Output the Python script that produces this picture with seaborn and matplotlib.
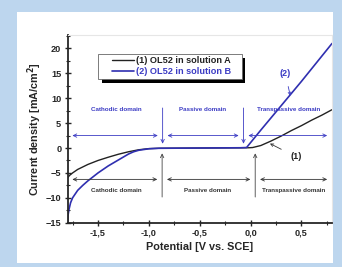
import numpy as np
import matplotlib
matplotlib.use("Agg")
import matplotlib.pyplot as plt
import seaborn as sns
from matplotlib.lines import Line2D
from matplotlib.patches import Rectangle

# polarization curves
pot_a = [-1.8, -1.78, -1.75, -1.7, -1.6, -1.5, -1.4, -1.3, -1.2, -1.1, -1.0, -0.9, -0.5,
         -0.02, 0.02, 0.1, 0.2, 0.3, 0.4, 0.5, 0.6, 0.7, 0.8]
cur_a = [-6.0, -5.5, -5.0, -4.3, -3.3, -2.5, -1.85, -1.25, -0.75, -0.35, -0.12, -0.05, 0.0,
         0.05, 0.1, 0.5, 1.4, 2.4, 3.5, 4.5, 5.6, 6.6, 7.7]

pot_b = [-1.8, -1.795, -1.785, -1.77, -1.75, -1.7, -1.65, -1.6, -1.5, -1.4, -1.3,
         -1.25, -1.2, -1.15, -1.1, -1.0, -0.9, -0.5, -0.1, -0.04, 0.1, 0.3, 0.5, 0.8]
cur_b = [-15.0, -13.5, -12.3, -11.0, -10.0, -8.5, -7.5, -6.6, -5.0, -3.6, -2.4,
         -1.8, -1.2, -0.75, -0.45, -0.15, -0.05, 0.0, 0.05, 0.1, 3.6, 8.5, 13.4, 21.0]

labels = ["(1) OL52 in solution A", "(2) OL52 in solution B"]
domains = ["Cathodic domain", "Passive domain", "Transpassive domain"]
blue_bounds = [-1.8, -0.865, -0.07, 0.8]
black_bounds = [-1.8, -0.87, 0.045, 0.8]

BLUE = "#2f2fb0"
TBLUE = "#3c3cc4"
BG = "#bdd6ee"

sns.set_style("ticks")
plt.rcParams["font.family"] = ["Liberation Sans", "DejaVu Sans"]
plt.rcParams["font.weight"] = "bold"

fig = plt.figure(figsize=(3.42, 2.67), dpi=100, facecolor=BG)
fig.patches.append(Rectangle((17 / 342, 4 / 267), 316 / 342, 251 / 267,
                             transform=fig.transFigure, facecolor="white",
                             edgecolor="none", zorder=-5))
ax = fig.add_axes([0.1974, 0.1659, 0.7734, 0.703])
ax.set_facecolor("white")

sns.lineplot(x=pot_a, y=cur_a, ax=ax, color="#222222", lw=1.0, sort=False, estimator=None)
sns.lineplot(x=pot_b, y=cur_b, ax=ax, color=BLUE, lw=1.2, sort=False, estimator=None)

ax.set_xlim(-1.8, 0.8)
ax.set_ylim(-15, 22.7)
ax.set_xticks([-1.5, -1.0, -0.5, 0.0, 0.5])
ax.set_xticklabels(["-1,5", "-1,0", "-0,5", "0,0", "0,5"])
ax.set_xticks(np.arange(-1.75, 0.8, 0.25), minor=True)
ax.set_yticks([-15, -10, -5, 0, 5, 10, 15, 20])
ax.set_yticks(np.arange(-12.5, 22.6, 5), minor=True)
ax.tick_params(which="major", direction="inout", length=5, width=1.0, labelsize=6.6, pad=2)
ax.tick_params(which="minor", direction="inout", length=3, width=0.8)
for lab in ax.get_xticklabels() + ax.get_yticklabels():
    lab.set_fontweight("bold")
for s in ["left", "bottom"]:
    ax.spines[s].set_linewidth(1.3)
for s in ["top", "right"]:
    ax.spines[s].set_color("#e6e6e6")
    ax.spines[s].set_linewidth(0.8)

ax.set_xlabel("Potential [V vs. SCE]", fontsize=7.8, fontweight="bold", labelpad=3)
ax.set_ylabel("Current density [mA/cm$^\\mathbf{2}$]", fontsize=7.8, fontweight="bold", labelpad=1)

# domain arrows
hstyle = "<->,head_length=0.25,head_width=0.12"
for i in range(3):
    ax.annotate("", xy=(blue_bounds[i] + 0.02, 2.5), xytext=(blue_bounds[i + 1] - 0.02, 2.5),
                arrowprops=dict(arrowstyle=hstyle, color=TBLUE, lw=0.6))
    ax.annotate("", xy=(black_bounds[i] + 0.02, -6.3), xytext=(black_bounds[i + 1] - 0.02, -6.3),
                arrowprops=dict(arrowstyle=hstyle, color="#333333", lw=0.6))

vstyle = "->,head_length=0.25,head_width=0.12"
for xv in blue_bounds[1:3]:
    ax.annotate("", xy=(xv, 0.3), xytext=(xv, 8.6),
                arrowprops=dict(arrowstyle=vstyle, color=TBLUE, lw=0.6))
for xv in black_bounds[1:3]:
    ax.annotate("", xy=(xv, -0.5), xytext=(xv, -10.4),
                arrowprops=dict(arrowstyle=vstyle, color="#444444", lw=0.6))

for name, xb in zip(domains, [-1.32, -0.47, 0.37]):
    ax.text(xb, 7.7, name, color=TBLUE, fontsize=4.5, fontweight="bold", ha="center", va="center")
for name, xb in zip(domains, [-1.32, -0.425, 0.42]):
    ax.text(xb, -8.6, name, color="#333333", fontsize=4.5, fontweight="bold", ha="center", va="center")

ax.annotate("(2)", xy=(0.39, 10.5), xytext=(0.34, 15.0), color=TBLUE, fontsize=6.5,
            fontweight="bold", ha="center", va="center",
            arrowprops=dict(arrowstyle="->,head_length=0.3,head_width=0.15", color=TBLUE, lw=0.6,
                            shrinkA=4, shrinkB=0))
ax.annotate("(1)", xy=(0.19, 0.9), xytext=(0.45, -1.8), color="#222222", fontsize=6.5,
            fontweight="bold", ha="center", va="center",
            arrowprops=dict(arrowstyle="->,head_length=0.3,head_width=0.15", color="#333333", lw=0.6,
                            shrinkA=5, shrinkB=0))

# legend: box with solid shadow, entries drawn by matplotlib's legend
ax.add_patch(Rectangle((0.1294, 0.745), 0.5422, 0.1316, transform=ax.transAxes,
                       facecolor="black", edgecolor="none", zorder=4))
ax.add_patch(Rectangle((0.1164, 0.7656), 0.5422, 0.1316, transform=ax.transAxes,
                       facecolor="white", edgecolor="#666666", lw=0.6, zorder=5))
handles = [Line2D([0], [0], color="#222222", lw=1.0), Line2D([0], [0], color=BLUE, lw=1.2)]
leg = ax.legend(handles, labels, loc="center left", bbox_to_anchor=(0.15, 0.833),
                fontsize=6.6, frameon=False, handlelength=2.4,
                handletextpad=0.2, borderpad=0.0, labelspacing=0.25)
leg.set_zorder(6)
for t, c in zip(leg.get_texts(), ["#222222", TBLUE]):
    t.set_color(c)
    t.set_fontweight("bold")

fig.savefig("out.png", dpi=100, facecolor=BG)
